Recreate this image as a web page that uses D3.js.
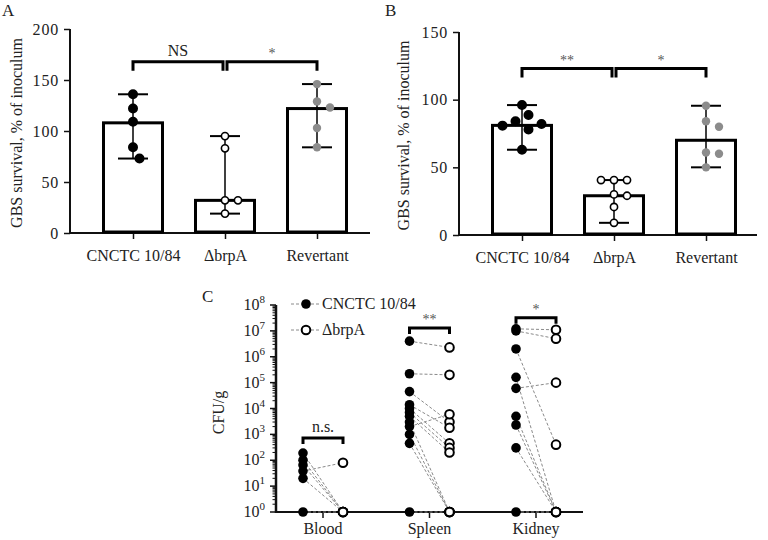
<!DOCTYPE html>
<html><head><meta charset="utf-8">
<script src="https://cdn.jsdelivr.net/npm/d3@7"></script>
<style>
body{margin:0;background:#fff}
text{font-family:"Liberation Serif","Times New Roman",serif}
</style>
</head><body>
<svg id="chart" width="768" height="540"></svg>
<script>
// ---------- DATA ----------
const categories = ["CNCTC 10/84", "\u0394brpA", "Revertant"];
const aTicks = [0, 50, 100, 150, 200];
const aBars = [108, 32, 122];
const aCNCTC = [136, 122, 109, 84, 73];
const aDelta = [95, 83, 32, 32, 19];
const aRev = [146, 129, 123, 103, 84];
const aSig = ["NS", "*"];

const bTicks = [0, 50, 100, 150];
const bBars = [81, 29, 70];
const bCNCTC = [96, 88.7, 84, 82, 80.8, 78, 63];
const bDelta = [40.6, 40.6, 40.6, 30, 29, 20.7, 9];
const bRev = [95.5, 84, 80, 61, 60, 50];
const bSig = ["**", "*"];

const tissues = ["Blood", "Spleen", "Kidney"];
const cExponents = [0, 1, 2, 3, 4, 5, 6, 7, 8];
const bloodWT  = [190, 100, 65, 38, 20, 1];
const bloodMut = [1, 1, 1, 80, 1, 1];
const spleenWT  = [4e6, 2.2e5, 4.5e4, 1.4e4, 1e4, 7e3, 5e3, 3e3, 2e3, 1e3, 450, 1];
const spleenMut = [2.3e6, 2e5, 3e3, 1.8e3, 450, 300, 200, 1, 6e3, 1, 1, 1];
const kidneyWT  = [1.2e7, 1e7, 2e6, 1.6e5, 6e4, 5e3, 2.3e3, 300, 1];
const kidneyMut = [1.1e7, 5e6, 400, 1, 1e5, 1, 1, 1, 1];
const cSig = ["n.s.", "**", "*"];
const cSigLevels = [720, 1.3e7, 3.2e7];
const legendLabels = ["CNCTC 10/84", "\u0394brpA"];

// ---------- STYLE ----------
const GRAY = "#8c8c8c";
const TXT = "#222";
const FONT = 16;
const svg = d3.select("#chart");

function beeswarm(values, y, D, step) {
  const placed = [];
  const order = values.map((v, i) => ({v, i})).sort((a, b) => b.v - a.v);
  const out = new Array(values.length);
  order.forEach(o => {
    const py = y(o.v);
    for (let k = 0; k < 40; k++) {
      const m = Math.ceil(k / 2) * (k % 2 === 1 ? 1 : -1);
      const dx = m * step;
      if (placed.every(p => Math.hypot(p.dx - dx, p.py - py) >= D)) {
        placed.push({dx, py}); out[o.i] = dx; break;
      }
    }
  });
  return out;
}

function txt(g) { return g.append("text").style("fill", TXT); }

function barPanel(o) {
  const g = svg.append("g");
  const y = d3.scaleLinear().domain([0, o.max]).range([o.yb, o.yt]);
  const x = d3.scalePoint().domain(categories).range(o.cr);
  const ya = g.append("g").attr("transform", `translate(${o.x0},0)`)
    .call(d3.axisLeft(y).tickValues(o.ticks).tickSize(6).tickPadding(5).tickSizeOuter(0));
  ya.select(".domain").remove();
  ya.selectAll("line").attr("stroke", "#111").attr("stroke-width", 1.5);
  ya.selectAll("text").attr("font-size", FONT).attr("font-family", "Liberation Serif").attr("letter-spacing", "0.8px").style("fill", TXT);
  g.append("line").attr("x1", o.x0).attr("x2", o.x0).attr("y1", o.yb + 1).attr("y2", o.yt)
    .attr("stroke", "#111").attr("stroke-width", 2);
  const xa = g.append("g").attr("transform", `translate(0,${o.yb})`)
    .call(d3.axisBottom(x).tickSize(6).tickPadding(11).tickSizeOuter(0));
  xa.select(".domain").remove();
  xa.selectAll("line").attr("stroke", "#111").attr("stroke-width", 1.5);
  xa.selectAll("text").attr("font-size", FONT).attr("font-family", "Liberation Serif").style("fill", TXT);
  g.append("line").attr("x1", o.x0 - 1).attr("x2", o.x1).attr("y1", o.yb).attr("y2", o.yb)
    .attr("stroke", "#111").attr("stroke-width", 2);
  txt(g).attr("transform", `translate(${o.lx},${(o.yb + o.yt) / 2 + 2}) rotate(-90)`)
    .attr("text-anchor", "middle").attr("dy", "0.35em").attr("font-size", FONT).text("GBS survival, % of inoculum");
  txt(g).attr("x", o.letterX).attr("y", 16).attr("font-size", FONT + 1).text(o.letter);
  const bw = 59;
  const fills = ["#000", "#fff", GRAY];
  const strokes = ["#000", "#000", "none"];
  o.groups.forEach((vals, i) => {
    const cx = x(categories[i]);
    g.append("rect").attr("x", cx - bw / 2).attr("y", y(o.bars[i])).attr("width", bw)
      .attr("height", o.yb - y(o.bars[i]) - 1).attr("fill", "#fff").attr("stroke", "#000").attr("stroke-width", 3);
    const [mn, mx] = d3.extent(vals);
    g.append("line").attr("x1", cx).attr("x2", cx).attr("y1", y(mn)).attr("y2", y(mx)).attr("stroke", "#000").attr("stroke-width", 1.5);
    [mn, mx].forEach(v => g.append("line").attr("x1", cx - 15).attr("x2", cx + 15).attr("y1", y(v)).attr("y2", y(v))
      .attr("stroke", "#000").attr("stroke-width", 2));
    const dx = beeswarm(vals, y, 11.5, 6.5);
    vals.forEach((v, j) => {
      g.append("circle").attr("cx", cx + dx[j]).attr("cy", y(v)).attr("r", i === 1 ? 3.6 : 4.2)
        .attr("fill", fills[i]).attr("stroke", strokes[i]).attr("stroke-width", 1.6);
    });
  });
  const by = y(o.bracket);
  o.sig.forEach((s, k) => {
    const xa0 = x(categories[k]) + (k === 1 ? 2 : 0);
    const xa1 = x(categories[k + 1]) - (k === 0 ? 2 : 0);
    g.append("path").attr("d", `M${xa0},${by + 9}V${by}H${xa1}V${by + 9}`)
      .attr("fill", "none").attr("stroke", "#000").attr("stroke-width", 3);
    g.append("text").attr("x", (xa0 + xa1) / 2).attr("y", by - (s === "NS" ? 6 : 4)).attr("text-anchor", "middle")
      .attr("font-size", s === "NS" ? FONT : 14).style("fill", s === "NS" ? TXT : "#555").text(s);
  });
}

barPanel({x0: 70, x1: 370, yt: 29, yb: 233, max: 200, ticks: aTicks, cr: [133, 317],
  bars: aBars, groups: [aCNCTC, aDelta, aRev], bracket: 168, sig: aSig, lx: 16, letter: "A", letterX: 2});
barPanel({x0: 459, x1: 757, yt: 32, yb: 235, max: 150, ticks: bTicks, cr: [522, 706],
  bars: bBars, groups: [bCNCTC, bDelta, bRev], bracket: 123, sig: bSig, lx: 403, letter: "B", letterX: 385});

// ---------- PANEL C ----------
(function () {
  const g = svg.append("g");
  const x0 = 276, x1 = 583, yt = 305, yb = 512;
  const y = d3.scaleLog().domain([1, 1e8]).range([yb, yt]);
  const x = d3.scalePoint().domain(tissues).range([323, 536]);
  const off = 20;
  const sets = [[bloodWT, bloodMut], [spleenWT, spleenMut], [kidneyWT, kidneyMut]];
  cExponents.forEach(e => {
    g.append("line").attr("x1", x0).attr("x2", x0 - 6).attr("y1", y(Math.pow(10, e))).attr("y2", y(Math.pow(10, e)))
      .attr("stroke", "#111").attr("stroke-width", 1.5);
    if (e < 8) for (let m = 2; m <= 9; m++) {
      const yy = y(m * Math.pow(10, e));
      g.append("line").attr("x1", x0).attr("x2", x0 - 3.5).attr("y1", yy).attr("y2", yy).attr("stroke", "#111").attr("stroke-width", 1);
    }
    const t = txt(g).attr("x", 265).attr("y", y(Math.pow(10, e)) + 5).attr("text-anchor", "end").attr("font-size", FONT);
    t.append("tspan").text("10");
    t.append("tspan").attr("font-size", 11).attr("dy", -7).text(String(e));
  });
  g.append("line").attr("x1", x0).attr("x2", x0).attr("y1", yb + 1).attr("y2", yt).attr("stroke", "#111").attr("stroke-width", 2.5);
  g.append("line").attr("x1", x0 - 1).attr("x2", x1).attr("y1", yb).attr("y2", yb).attr("stroke", "#111").attr("stroke-width", 2);
  tissues.forEach(t => {
    g.append("line").attr("x1", x(t)).attr("x2", x(t)).attr("y1", yb).attr("y2", yb + 6).attr("stroke", "#111").attr("stroke-width", 1.5);
    txt(g).attr("x", x(t)).attr("y", yb + 22).attr("text-anchor", "middle").attr("font-size", FONT).text(t);
  });
  txt(g).attr("transform", `translate(218,${(yb + yt) / 2 + 4}) rotate(-90)`)
    .attr("text-anchor", "middle").attr("dy", "0.35em").attr("font-size", FONT).text("CFU/g");
  txt(g).attr("x", 202).attr("y", 302).attr("font-size", FONT + 1).text("C");
  sets.forEach(([wt, mut], i) => {
    const cx = x(tissues[i]);
    wt.forEach((v, j) => {
      g.append("line").attr("x1", cx - off).attr("y1", y(v)).attr("x2", cx + off).attr("y2", y(mut[j]))
        .attr("stroke", "#8a8a8a").attr("stroke-width", 1).attr("stroke-dasharray", "3,2");
    });
  });
  sets.forEach(([wt, mut], i) => {
    const cx = x(tissues[i]);
    wt.forEach(v => g.append("circle").attr("cx", cx - off).attr("cy", y(v)).attr("r", 4.8).attr("fill", "#000"));
    mut.forEach(v => g.append("circle").attr("cx", cx + off).attr("cy", y(v)).attr("r", 4.3)
      .attr("fill", "#fff").attr("stroke", "#000").attr("stroke-width", 2));
  });
  cSig.forEach((s, i) => {
    const cx = x(tissues[i]);
    const by = y(cSigLevels[i]);
    const a = cx - off, b = cx + off;
    g.append("path").attr("d", `M${a},${by + 6}V${by}H${b}V${by + 6}`).attr("fill", "none").attr("stroke", "#000").attr("stroke-width", 3);
    g.append("text").attr("x", cx).attr("y", by - (s === "n.s." ? 6 : 4)).attr("text-anchor", "middle")
      .attr("font-size", s === "n.s." ? FONT : 14).style("fill", s === "n.s." ? TXT : "#555").text(s);
  });
  legendLabels.forEach((l, i) => {
    const ly = 304 + i * 26;
    g.append("line").attr("x1", 291).attr("x2", 320).attr("y1", ly).attr("y2", ly)
      .attr("stroke", "#8a8a8a").attr("stroke-width", 1).attr("stroke-dasharray", "3,2");
    if (i === 0) g.append("circle").attr("cx", 306).attr("cy", ly).attr("r", 4.8).attr("fill", "#000");
    else g.append("circle").attr("cx", 306).attr("cy", ly).attr("r", 4.3).attr("fill", "#fff").attr("stroke", "#000").attr("stroke-width", 2);
    txt(g).attr("x", 322).attr("y", ly + 5).attr("font-size", FONT).text(l);
  });
})();
</script>
</body></html>
